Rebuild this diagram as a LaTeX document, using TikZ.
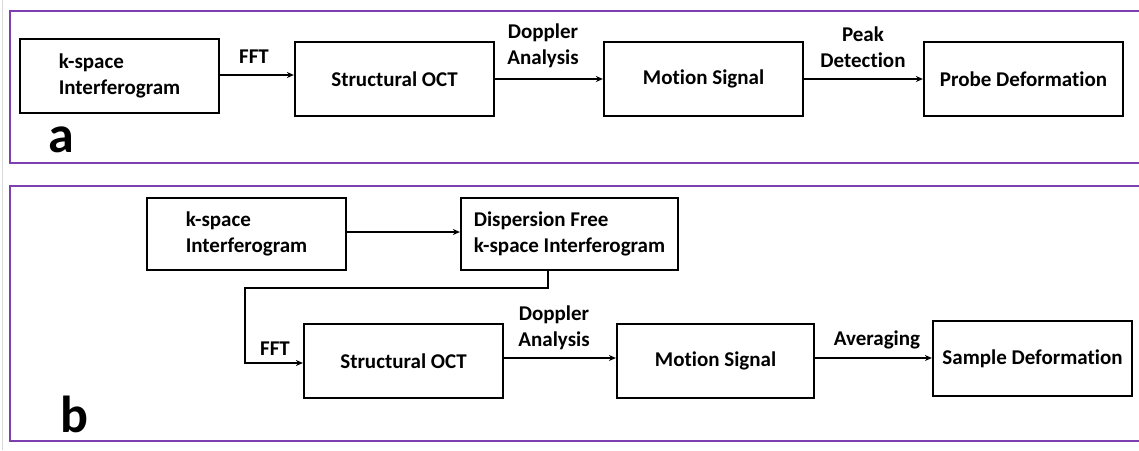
\documentclass[tikz,border=0pt]{standalone}
\usepackage{fontspec}
\setmainfont[RawFeature={-liga;-clig;-calt;-dlig}]{Carlito}
\usetikzlibrary{arrows.meta,calc}
\definecolor{framepurple}{HTML}{7E3FB0}
\tikzset{
  stagebox/.style={draw=black,line width=2.2pt,rectangle,inner sep=0pt,
    font=\fontsize{21}{26}\selectfont\bfseries,align=left},
  steplabel/.style={font=\fontsize{21}{26}\selectfont\bfseries,align=center,inner sep=0pt},
  flow/.style={line width=1.5pt,-{Stealth[length=7pt,width=6pt]}},
  panelframe/.style={draw=framepurple,line width=2.5pt},
  panelletter/.style={font=\fontsize{52}{52}\selectfont\bfseries,anchor=base west,inner sep=0pt}
}
\begin{document}
\begin{tikzpicture}[x=1pt,y=-1pt]
\useasboundingbox (0,0) rectangle (1139,450);
\draw[gray!30,line width=1pt] (2.5,0) -- (2.5,450);

% panel a
\draw[panelframe] (1145,11) -- (10,11) -- (10,163) -- (1145,163);
\node[stagebox,minimum width=199pt,minimum height=74pt] (ka) at (119.5,76) {k-space\\Interferogram};
\node[stagebox,minimum width=199pt,minimum height=74pt,align=center] (soa) at (394.5,79) {Structural OCT};
\node[stagebox,minimum width=199pt,minimum height=74pt,align=center] (msa) at (703.5,79) {Motion Signal};
\node[stagebox,minimum width=199pt,minimum height=74pt,align=center] (pda) at (1023.5,79) {Probe Deformation};
\draw[flow] (ka.east |- 0,75) -- (soa.west |- 0,75);
\draw[flow] (soa.east) -- (msa.west);
\draw[flow] (msa.east) -- (pda.west);
\node[steplabel] (lfa) at (254,57) {FFT};
\node[steplabel] (lda) at (543,46) {Doppler\\Analysis};
\node[steplabel] (lpa) at (863,47) {Peak\\Detection};
\node[panelletter] (pa) at (48,152) {a};

% panel b
\draw[panelframe] (1145,186) -- (10,186) -- (10,441) -- (1145,441);
\node[stagebox,minimum width=199pt,minimum height=72pt] (kb) at (246.5,234) {k-space\\Interferogram};
\node[stagebox,minimum width=217pt,minimum height=72pt] (df) at (569.5,234) {Dispersion Free\\k-space Interferogram};
\node[stagebox,minimum width=199pt,minimum height=74pt,align=center] (sob) at (403.5,361) {Structural OCT};
\node[stagebox,minimum width=197pt,minimum height=74pt,align=center] (msb) at (715.5,361) {Motion Signal};
\node[stagebox,minimum width=199pt,minimum height=75pt,align=center] (sdb) at (1032.5,358.5) {Sample Deformation};
\coordinate (d1) at (548,288);
\coordinate (d2) at (245,288);
\draw[flow] (kb.east |- 0,232) -- (df.west |- 0,232);
\draw[flow] (df.south -| d1) -- (d1) -- (d2) |- (sob.west |- 0,363);
\draw[flow] (sob.east |- 0,358) -- (msb.west |- 0,358);
\draw[flow] (msb.east |- 0,358) -- (sdb.west |- 0,358);
\node[steplabel] (lfb) at (275,349) {FFT};
\node[steplabel] (ldb) at (554,327.5) {Doppler\\Analysis};
\node[steplabel] (lab) at (877,340) {Averaging};
\node[panelletter] (pb) at (60,432) {b};
\end{tikzpicture}
\end{document}
